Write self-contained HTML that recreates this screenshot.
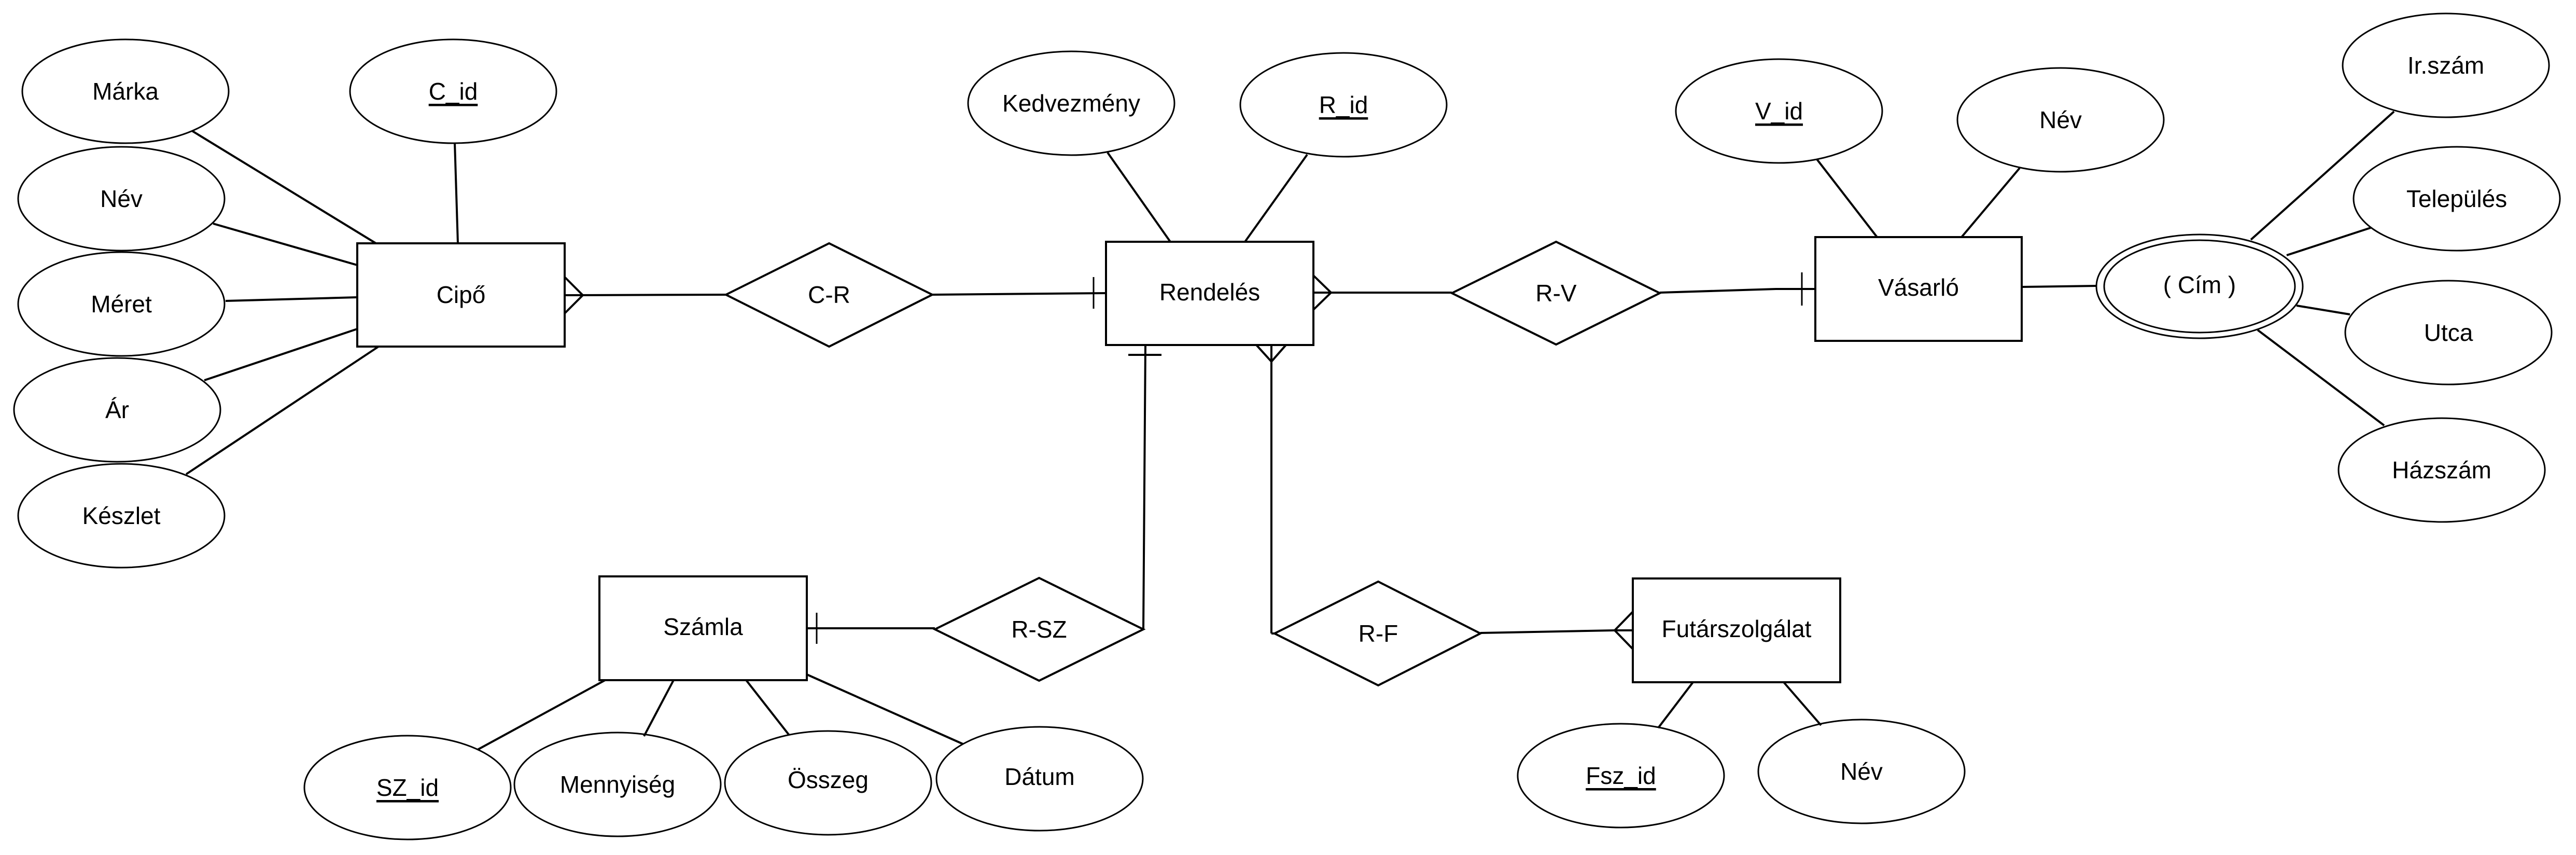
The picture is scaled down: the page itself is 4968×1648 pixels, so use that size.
<!DOCTYPE html>
<html><head><meta charset="utf-8"><style>
html,body{margin:0;padding:0;background:#fff;}
svg{display:block}
text{font-family:"Liberation Sans",Arial,sans-serif;font-size:46px;fill:#000;text-anchor:middle;dominant-baseline:central}
</style></head><body>
<svg width="4968" height="1648" viewBox="0 0 4968 1648" xmlns="http://www.w3.org/2000/svg">
<g fill="#fff" stroke="#000" stroke-width="3">
<ellipse cx="242" cy="176" rx="199" ry="100"/>
<ellipse cx="874" cy="176" rx="199" ry="100"/>
<ellipse cx="234" cy="383" rx="199" ry="100"/>
<ellipse cx="234" cy="586" rx="199" ry="100"/>
<ellipse cx="226" cy="790" rx="199" ry="100"/>
<ellipse cx="234" cy="994" rx="199" ry="100"/>
<ellipse cx="2066" cy="199" rx="199" ry="100"/>
<ellipse cx="2591" cy="202" rx="199" ry="100"/>
<ellipse cx="786" cy="1518" rx="199" ry="100"/>
<ellipse cx="1191" cy="1512" rx="199" ry="100"/>
<ellipse cx="1597" cy="1509" rx="199" ry="100"/>
<ellipse cx="2005" cy="1501" rx="199" ry="100"/>
<ellipse cx="3431" cy="214" rx="199" ry="100"/>
<ellipse cx="3974" cy="231" rx="199" ry="100"/>
<ellipse cx="4717" cy="126" rx="199" ry="100"/>
<ellipse cx="4738" cy="383" rx="199" ry="100"/>
<ellipse cx="4722" cy="641" rx="199" ry="100"/>
<ellipse cx="4709" cy="906" rx="199" ry="100"/>
<ellipse cx="3126" cy="1495" rx="199" ry="100"/>
<ellipse cx="3590" cy="1487" rx="199" ry="100"/>
<ellipse cx="4242" cy="552" rx="199" ry="100"/>
<ellipse cx="4242" cy="552" rx="184" ry="89"/>
</g>
<g fill="#fff" stroke="#000" stroke-width="4">
<rect x="689" y="469" width="400" height="199"/>
<rect x="2133" y="466" width="400" height="199"/>
<rect x="1156" y="1111" width="400" height="200"/>
<rect x="3501" y="457" width="398" height="200"/>
<rect x="3149" y="1115" width="400" height="200"/>
<polygon points="1400,568 1599,469 1798,568 1599,668"/>
<polygon points="2800,565 3001,466 3201,565 3001,664"/>
<polygon points="1803,1213 2004,1114 2205,1213 2004,1312"/>
<polygon points="2458,1221 2658,1121 2855,1221 2658,1321"/>
</g>
<g stroke="#000" stroke-width="4" fill="none">
<line x1="370" y1="252" x2="725" y2="469"/>
<line x1="877" y1="275" x2="883" y2="469"/>
<line x1="411" y1="431" x2="689" y2="511"/>
<line x1="435" y1="580" x2="689" y2="573"/>
<line x1="394" y1="733" x2="689" y2="634"/>
<line x1="359" y1="914" x2="730" y2="668"/>
<line x1="1089" y1="569" x2="1400" y2="568"/>
<polyline points="1089,534 1124,569 1089,604"/>
<line x1="1798" y1="568" x2="2133" y2="565"/>
<line x1="2109" y1="534" x2="2109" y2="595" stroke-width="3"/>
<line x1="2136" y1="294" x2="2257" y2="466"/>
<line x1="2521" y1="298" x2="2401" y2="466"/>
<line x1="2176" y1="684" x2="2240" y2="684"/>
<polyline points="2209,665 2205,1213"/>
<line x1="1803" y1="1211" x2="1556" y2="1211"/>
<line x1="1575" y1="1181" x2="1575" y2="1241" stroke-width="3"/>
<polyline points="2423,665 2452,697 2480,665"/>
<line x1="2452" y1="665" x2="2452" y2="1221"/>
<line x1="2452" y1="1221" x2="2458" y2="1221"/>
<polyline points="2533,531 2567,564 2533,597"/>
<line x1="2533" y1="564" x2="2800" y2="564"/>
<polyline points="3201,564 3425,557 3501,557"/>
<line x1="3475" y1="525" x2="3475" y2="589" stroke-width="3"/>
<line x1="3504" y1="307" x2="3620" y2="457"/>
<line x1="3895" y1="324" x2="3783" y2="457"/>
<line x1="3899" y1="553" x2="4043" y2="551"/>
<line x1="4617" y1="215" x2="4341" y2="462"/>
<line x1="4572" y1="439" x2="4410" y2="492"/>
<line x1="4532" y1="606" x2="4429" y2="589"/>
<line x1="4598" y1="820" x2="4354" y2="636"/>
<polyline points="2855,1220 3114,1215 3149,1215"/>
<polyline points="3149,1179 3114,1215 3149,1251"/>
<line x1="3265" y1="1315" x2="3198" y2="1403"/>
<line x1="3440" y1="1315" x2="3512" y2="1398"/>
<line x1="1167" y1="1311" x2="921" y2="1445"/>
<line x1="1299" y1="1311" x2="1242" y2="1419"/>
<line x1="1439" y1="1311" x2="1522" y2="1417"/>
<line x1="1556" y1="1300" x2="1857" y2="1434"/>
</g>
<text x="242" y="176">Márka</text>
<text x="874" y="176" text-decoration="underline">C_id</text>
<text x="234" y="383">Név</text>
<text x="234" y="586">Méret</text>
<text x="226" y="790">Ár</text>
<text x="234" y="994">Készlet</text>
<text x="889" y="568">Cipő</text>
<text x="1599" y="568">C-R</text>
<text x="2333" y="563">Rendelés</text>
<text x="2066" y="199">Kedvezmény</text>
<text x="2591" y="202" text-decoration="underline">R_id</text>
<text x="1356" y="1208">Számla</text>
<text x="2004" y="1213">R-SZ</text>
<text x="786" y="1518" text-decoration="underline">SZ_id</text>
<text x="1191" y="1512">Mennyiség</text>
<text x="1597" y="1503">Összeg</text>
<text x="2005" y="1497">Dátum</text>
<text x="3001" y="565">R-V</text>
<text x="3700" y="554">Vásarló</text>
<text x="3431" y="214" text-decoration="underline">V_id</text>
<text x="3974" y="231">Név</text>
<text x="4242" y="549">( Cím )</text>
<text x="4717" y="126">Ir.szám</text>
<text x="4738" y="383">Település</text>
<text x="4722" y="641">Utca</text>
<text x="4709" y="906">Házszám</text>
<text x="2658" y="1221">R-F</text>
<text x="3349" y="1212">Futárszolgálat</text>
<text x="3126" y="1495" text-decoration="underline">Fsz_id</text>
<text x="3590" y="1487">Név</text>
</svg>
</body></html>
